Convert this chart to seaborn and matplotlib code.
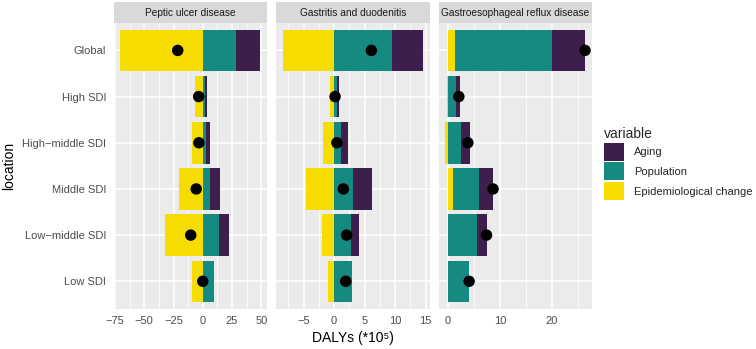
import matplotlib
matplotlib.use("Agg")
import matplotlib.pyplot as plt
import pandas as pd
import seaborn as sns
from matplotlib.patches import Patch
from matplotlib.ticker import MultipleLocator

locations = ["Global", "High SDI", "High−middle SDI", "Middle SDI", "Low−middle SDI", "Low SDI"]
diseases = ["Peptic ulcer disease", "Gastritis and duodenitis", "Gastroesophageal reflux disease"]
variables = ["Aging", "Population", "Epidemiological change"]

# decomposition components, DALYs (*10^5), in location order
peptic_aging = [20.1, 1.9, 3.7, 8.1, 8.4, 0.0]
peptic_population = [28.8, 1.5, 2.6, 6.3, 13.8, 9.3]
peptic_epi = [-70.3, -6.9, -9.6, -20.0, -32.5, -9.3]

gastritis_aging = [5.0, 0.35, 1.25, 3.1, 1.2, 0.0]
gastritis_population = [9.5, 0.5, 1.05, 3.05, 2.8, 2.9]
gastritis_epi = [-8.4, -0.7, -1.85, -4.65, -1.95, -1.0]

gerd_aging = [6.4, 0.7, 1.8, 2.65, 1.8, 0.0]
gerd_population = [18.65, 1.67, 2.5, 5.0, 5.55, 4.1]
gerd_epi = [1.35, -0.25, -0.45, 1.05, 0.1, 0.0]

major_step = [25, 5, 10]

palette = {"Aging": "#3D1F4E", "Population": "#158A80", "Epidemiological change": "#F6DC00"}

rows = []
for dis, (ag, po, ep) in zip(
    diseases,
    [
        (peptic_aging, peptic_population, peptic_epi),
        (gastritis_aging, gastritis_population, gastritis_epi),
        (gerd_aging, gerd_population, gerd_epi),
    ],
):
    for loc, a, p, e in zip(locations, ag, po, ep):
        rows.append({"disease": dis, "location": loc, "variable": "Epidemiological change", "value": e})
        rows.append({"disease": dis, "location": loc, "variable": "Population", "value": p})
        rows.append({"disease": dis, "location": loc, "variable": "Aging", "value": a})
df = pd.DataFrame(rows)

sns.set_theme(style="darkgrid")
plt.rcParams["font.family"] = ["Liberation Sans", "DejaVu Sans"]
plt.rcParams["axes.unicode_minus"] = True

W, H = 756, 349
fig = plt.figure(figsize=(W / 100, H / 100), dpi=100)

panel_left = [113.5, 276.0, 438.5]
panel_w = 153.5
top, bottom = 22.7, 309.0
strip_top = 1.5

for i, dis in enumerate(diseases):
    x0 = panel_left[i]
    ax = fig.add_axes([x0 / W, 1 - bottom / H, panel_w / W, (bottom - top) / H])
    ax.set_facecolor("#EBEBEB")
    sub = df[df["disease"] == dis]

    totals = []
    lo_all, hi_all = 0.0, 0.0
    for loc in locations:
        pos, neg = 0.0, 0.0
        s = sub[sub["location"] == loc]
        # ggplot-style stacking: positives and negatives stack separately
        for var in ["Epidemiological change", "Population", "Aging"]:
            v = float(s.loc[s["variable"] == var, "value"].iloc[0])
            if v >= 0:
                ax.barh(loc, v, left=pos, height=0.9, color=palette[var], linewidth=0, zorder=2)
                pos += v
            else:
                ax.barh(loc, v, left=neg, height=0.9, color=palette[var], linewidth=0, zorder=2)
                neg += v
        lo_all = min(lo_all, neg)
        hi_all = max(hi_all, pos)
        totals.append(s["value"].sum())

    tot = pd.DataFrame({"location": locations, "total": totals})
    sns.scatterplot(data=tot, x="total", y="location", color="black", s=68,
                    edgecolor="none", zorder=3, ax=ax, legend=False)

    lo = min(lo_all, min(totals))
    hi = max(hi_all, max(totals))
    pad = (hi - lo) * 0.05
    ax.set_xlim(lo - pad, hi + pad)
    ax.set_ylim(len(locations) - 0.4, -0.6)

    ax.xaxis.set_major_locator(MultipleLocator(major_step[i]))
    ax.xaxis.set_minor_locator(MultipleLocator(major_step[i] / 2))
    ax.set_axisbelow(True)
    ax.grid(which="major", color="white", linewidth=1.1)
    ax.grid(which="minor", axis="x", color="white", linewidth=0.55)
    for sp in ax.spines.values():
        sp.set_visible(False)
    ax.tick_params(axis="both", which="major", length=3.2, width=0.8, color="#333333",
                   labelcolor="#4D4D4D", labelsize=8, pad=2)
    ax.tick_params(axis="x", which="minor", length=0)
    ax.set_xlabel("")
    ax.set_ylabel("")
    if i > 0:
        ax.tick_params(axis="y", length=0, labelleft=False)

    sax = fig.add_axes([x0 / W, 1 - top / H, panel_w / W, (top - strip_top) / H])
    sax.set_facecolor("#D9D9D9")
    sax.set_xticks([])
    sax.set_yticks([])
    for sp in sax.spines.values():
        sp.set_visible(False)
    sax.text(0.5, 0.48, dis, ha="center", va="center", fontsize=7.3, color="#1A1A1A",
             transform=sax.transAxes)

fig.text(353 / W, 1 - 338 / H, "DALYs (*10⁵)", ha="center", va="center", fontsize=10, color="black")
fig.text(9 / W, 1 - 166 / H, "location", ha="center", va="center", rotation=90, fontsize=10, color="black")

handles = [Patch(facecolor=palette[v], edgecolor="none", label=v) for v in variables]
leg = fig.legend(handles=handles, loc="upper left", bbox_to_anchor=(604 / W, 1 - 127 / H),
                 frameon=False, title="variable", title_fontsize=10, fontsize=8,
                 handlelength=1.8, handleheight=2.1, labelspacing=0.16, handletextpad=0.9,
                 alignment="left", borderaxespad=0, borderpad=0)

fig.savefig("out.png", dpi=100)
